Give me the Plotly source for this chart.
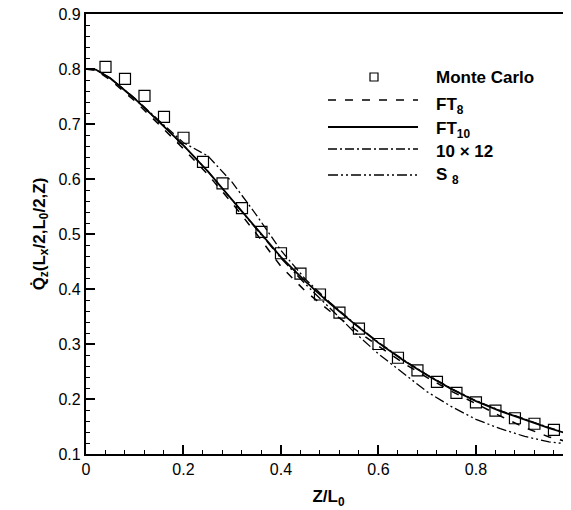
import plotly.graph_objects as go

# ---------------- data ----------------
mc_x = [0.04, 0.08, 0.12, 0.16, 0.20, 0.24, 0.28, 0.32, 0.36, 0.40, 0.44, 0.48,
        0.52, 0.56, 0.60, 0.64, 0.68, 0.72, 0.76, 0.80, 0.84, 0.88, 0.92, 0.96]
mc_y = [0.804, 0.782, 0.751, 0.713, 0.675, 0.631, 0.592, 0.547, 0.504, 0.465, 0.428, 0.390,
        0.357, 0.328, 0.300, 0.275, 0.252, 0.231, 0.211, 0.194, 0.179, 0.165, 0.155, 0.144]

curve_x = [0.0, 0.02, 0.05, 0.10, 0.15, 0.20, 0.25, 0.30, 0.35, 0.40, 0.45, 0.50,
           0.55, 0.60, 0.65, 0.70, 0.75, 0.80, 0.85, 0.90, 0.95, 0.98]
ft8_y = [0.800, 0.798, 0.780, 0.742, 0.699, 0.655, 0.608, 0.556, 0.500, 0.441, 0.396, 0.360,
         0.328, 0.296, 0.266, 0.239, 0.214, 0.191, 0.169, 0.148, 0.131, 0.124]
ft10_y = [0.800, 0.799, 0.783, 0.746, 0.704, 0.661, 0.614, 0.562, 0.509, 0.458, 0.414, 0.374,
          0.337, 0.302, 0.271, 0.243, 0.218, 0.196, 0.178, 0.162, 0.147, 0.139]
x1012_y = [0.800, 0.799, 0.783, 0.747, 0.706, 0.666, 0.642, 0.594, 0.534, 0.470, 0.418, 0.376,
           0.338, 0.303, 0.272, 0.244, 0.219, 0.197, 0.179, 0.163, 0.148, 0.140]
s8_y = [0.800, 0.799, 0.783, 0.746, 0.704, 0.661, 0.614, 0.562, 0.509, 0.456, 0.409, 0.365,
        0.322, 0.282, 0.248, 0.213, 0.186, 0.163, 0.146, 0.132, 0.122, 0.119]

x_ticks = [0, 0.2, 0.4, 0.6, 0.8]
x_ticklabels = ["0", "0.2", "0.4", "0.6", "0.8"]
y_ticks = [0.1, 0.2, 0.3, 0.4, 0.5, 0.6, 0.7, 0.8, 0.9]
y_ticklabels = ["0.1", "0.2", "0.3", "0.4", "0.5", "0.6", "0.7", "0.8", "0.9"]

names = ["Monte Carlo", "FT<sub>8</sub>", "FT<sub>10</sub>", "10 \u00d7 12", "S <sub>8</sub>"]

FONT = "Liberation Sans, Arial, Helvetica, sans-serif"
DASH_FT8 = "8px,9px"
DASH_1012 = "9px,3px,2px,3px"
DASH_S8 = "10px,3px,2px,3px,2px,3px"

fig = go.Figure()
fig.add_trace(go.Scatter(x=curve_x, y=ft8_y, mode="lines", line=dict(color="black", width=1.5, dash=DASH_FT8)))
fig.add_trace(go.Scatter(x=curve_x, y=x1012_y, mode="lines", line=dict(color="black", width=1.3, dash=DASH_1012)))
fig.add_trace(go.Scatter(x=curve_x, y=s8_y, mode="lines", line=dict(color="black", width=1.3, dash=DASH_S8)))
fig.add_trace(go.Scatter(x=curve_x, y=ft10_y, mode="lines", line=dict(color="black", width=1.8)))
fig.add_trace(go.Scatter(x=mc_x, y=mc_y, mode="markers",
                         marker=dict(symbol="square-open", size=11, color="black", line=dict(width=1.2))))

# ---- custom legend (paper coords; plot area 86..571 x 14..454 px in the window) ----
def px(x):
    return (x - 86) / 485.0

def py(y):
    return (454 - y) / 440.0

shapes = []
annotations = []
lx0, lx1 = px(328), px(418)
shapes.append(dict(type="rect", xref="paper", yref="paper", xsizemode="pixel", ysizemode="pixel",
                   xanchor=px(374), yanchor=py(77), x0=-4, x1=4, y0=-4, y1=4,
                   line=dict(color="black", width=1.2)))
for yy, dash, w in [(100, DASH_FT8, 1.5), (127, "solid", 1.8), (149, DASH_1012, 1.3), (175, DASH_S8, 1.3)]:
    shapes.append(dict(type="line", xref="paper", yref="paper", x0=lx0, x1=lx1, y0=py(yy), y1=py(yy),
                       line=dict(color="black", width=w, dash=dash)))
for name, yy in zip(names, [77, 106, 130, 152, 176]):
    annotations.append(dict(text="<b>" + name + "</b>", xref="paper", yref="paper", x=px(434), y=py(yy),
                            xanchor="left", yanchor="middle", showarrow=False,
                            font=dict(family=FONT, size=17, color="black")))
annotations.append(dict(text="1", xref="paper", yref="paper", x=px(573.5), y=py(466),
                        xanchor="center", yanchor="middle", showarrow=False,
                        font=dict(family=FONT, size=16, color="black")))

axis_common = dict(showgrid=False, zeroline=False, ticks="inside", ticklen=9, tickwidth=2.2,
                   tickcolor="black", showline=True, linecolor="black", linewidth=2.2, mirror=True,
                   automargin=False, ticklabeloverflow="allow",
                   tickfont=dict(family=FONT, size=16, color="black"))

# the page body has an 8px margin; margins are set so that the plot area lands at 86..571 x 14..454
fig.update_layout(
    width=571, height=510,
    margin=dict(l=78, r=8, t=6, b=64, autoexpand=False),
    plot_bgcolor="white", paper_bgcolor="white",
    showlegend=False,
    shapes=shapes, annotations=annotations,
    xaxis=dict(range=[0, 0.995], tickvals=x_ticks, ticktext=x_ticklabels,
               minor=dict(dtick=0.04, tick0=0, ticks="inside", ticklen=4, tickwidth=1, tickcolor="black", showgrid=False),
               title=dict(text="<b>Z/L<sub>0</sub></b>", font=dict(family=FONT, size=17, color="black"), standoff=13),
               **axis_common),
    yaxis=dict(range=[0.1, 0.9], tickvals=y_ticks, ticktext=y_ticklabels,
               minor=dict(dtick=0.02, tick0=0.1, ticks="inside", ticklen=4, tickwidth=1, tickcolor="black", showgrid=False),
               title=dict(text="<b>Q\u0307<sub>z</sub>(L<sub>x</sub>/2,L<sub>0</sub>/2,Z)</b>",
                          font=dict(family=FONT, size=17, color="black"), standoff=9),
               **axis_common),
)

fig.write_html("out.html")
